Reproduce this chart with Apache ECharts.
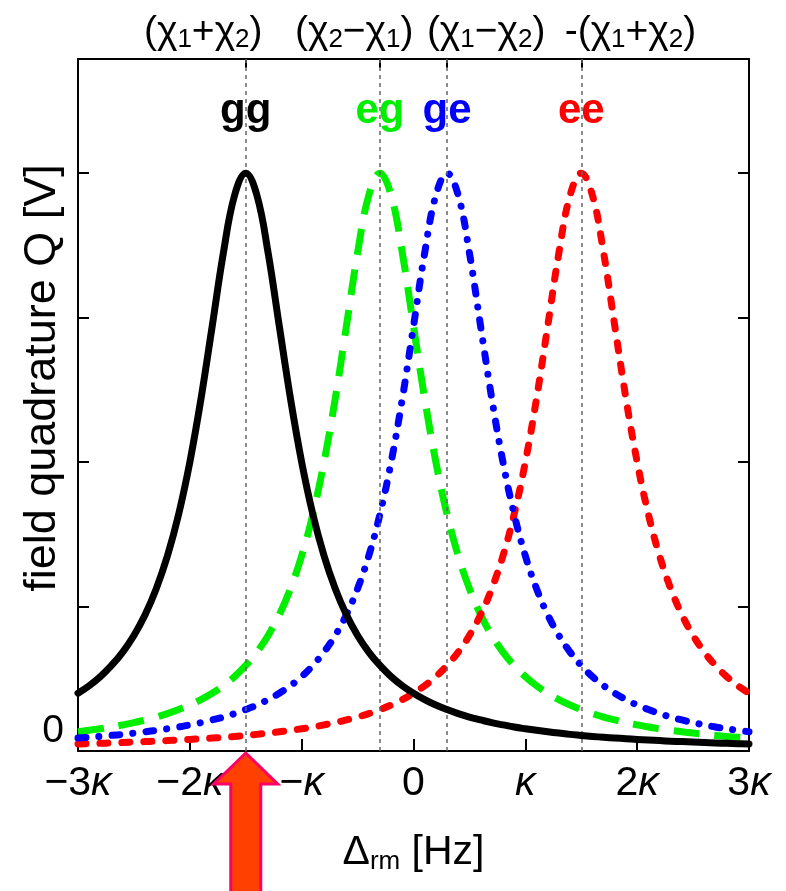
<!DOCTYPE html>
<html><head><meta charset="utf-8">
<script src="https://cdn.jsdelivr.net/npm/echarts@6/dist/echarts.min.js"></script>
<style>html,body{margin:0;padding:0;background:#fff}#c{width:786px;height:891px}</style>
</head><body><div id="c"></div>
<script>
// detuning in units of kappa
const detuning = [-3.0,-2.9,-2.8,-2.7,-2.6,-2.5,-2.4,-2.3,-2.2,-2.1,-2.0,-1.9,-1.8,-1.7,-1.6,-1.5,-1.4,-1.3,-1.2,-1.1,-1.0,-0.9,-0.8,-0.7,-0.6,-0.5,-0.4,-0.3,-0.2,-0.1,0.0,0.1,0.2,0.3,0.4,0.5,0.6,0.7,0.8,0.9,1.0,1.1,1.2,1.3,1.4,1.5,1.6,1.7,1.8,1.9,2.0,2.1,2.2,2.3,2.4,2.5,2.6,2.7,2.8,2.9,3.0];
const qGG = [0.4,0.452,0.515,0.592,0.685,0.8,0.943,1.124,1.351,1.639,2.0,2.439,2.941,3.448,3.846,4,3.846,3.448,2.941,2.439,2.0,1.639,1.351,1.124,0.943,0.8,0.685,0.592,0.515,0.452,0.4,0.356,0.318,0.287,0.259,0.235,0.215,0.196,0.181,0.166,0.154,0.143,0.133,0.124,0.115,0.108,0.101,0.095,0.09,0.085,0.08,0.076,0.072,0.068,0.065,0.062,0.059,0.056,0.053,0.051,0.049];
const qEG = [0.133,0.143,0.154,0.166,0.181,0.196,0.215,0.235,0.259,0.287,0.318,0.356,0.4,0.452,0.515,0.592,0.685,0.8,0.943,1.124,1.351,1.639,2.0,2.439,2.941,3.448,3.846,4,3.846,3.448,2.941,2.439,2.0,1.639,1.351,1.124,0.943,0.8,0.685,0.592,0.515,0.452,0.4,0.356,0.318,0.287,0.259,0.235,0.215,0.196,0.181,0.166,0.154,0.143,0.133,0.124,0.115,0.108,0.101,0.095,0.09];
const qGE = [0.09,0.095,0.101,0.108,0.115,0.124,0.133,0.143,0.154,0.166,0.181,0.196,0.215,0.235,0.259,0.287,0.318,0.356,0.4,0.452,0.515,0.592,0.685,0.8,0.943,1.124,1.351,1.639,2.0,2.439,2.941,3.448,3.846,4,3.846,3.448,2.941,2.439,2.0,1.639,1.351,1.124,0.943,0.8,0.685,0.592,0.515,0.452,0.4,0.356,0.318,0.287,0.259,0.235,0.215,0.196,0.181,0.166,0.154,0.143,0.133];
const qEE = [0.049,0.051,0.053,0.056,0.059,0.062,0.065,0.068,0.072,0.076,0.08,0.085,0.09,0.095,0.101,0.108,0.115,0.124,0.133,0.143,0.154,0.166,0.181,0.196,0.215,0.235,0.259,0.287,0.318,0.356,0.4,0.452,0.515,0.592,0.685,0.8,0.943,1.124,1.351,1.639,2.0,2.439,2.941,3.448,3.846,4,3.846,3.448,2.941,2.439,2.0,1.639,1.351,1.124,0.943,0.8,0.685,0.592,0.515,0.452,0.4];
const peakPositions = [-1.5, -0.3, 0.3, 1.5];
const peakHeight = 4;
const stateNames = ['gg', 'eg', 'ge', 'ee'];
const shiftLabels = ['(χ1+χ2)', '(χ2−χ1)', '(χ1−χ2)', '-(χ1+χ2)'];
const xTickValues = [-3, -2, -1, 0, 1, 2, 3];
const xTickLabels = ['−3κ', '−2κ', '−κ', '0', 'κ', '2κ', '3κ'];
const yTitle = 'field quadrature Q [V]';

const FONT = '"Liberation Sans", Arial, Helvetica, sans-serif';
const shiftLabelPos = [-1.88, -0.53, 0.65, 1.94];
const colors = {gg: '#000000', eg: '#00ee00', ge: '#0000ff', ee: '#ff0000'};

const chart = echarts.init(document.getElementById('c'), null, {renderer: 'canvas'});

function pairs(arr) { return detuning.map((x, i) => [x, arr[i]]); }
function nearestIdx(list, v) {
  let b = 0; for (let i = 1; i < list.length; i++) if (Math.abs(list[i] - v) < Math.abs(list[b] - v)) b = i; return b;
}
function subRich(s) { return s.replace(/(\d)/g, '{s|$1}'); }

function mkSeries(name, data, color, dash, cap, width, z) {
  const idx = stateNames.indexOf(name);
  return {
    type: 'line', name: name, data: pairs(data), showSymbol: false, smooth: 0.4, z: z,
    lineStyle: {color: color, width: width, type: dash, cap: cap, join: 'round'},
    markPoint: {
      symbol: 'circle', symbolSize: 1, itemStyle: {color: 'rgba(0,0,0,0)'},
      label: {show: true, formatter: name, offset: [0, -62], color: color, fontFamily: FONT, fontWeight: 'bold', fontSize: 42},
      data: [{coord: [peakPositions[idx], peakHeight]}]
    }
  };
}

const seriesList = [
  mkSeries('eg', qEG, colors.eg, [26, 15], 'butt', 7, 2),
  mkSeries('ee', qEE, colors.ee, [8, 14], 'round', 7, 3),
  mkSeries('ge', qGE, colors.ge, [8, 13, 0.1, 13], 'round', 7, 4),
  mkSeries('gg', qGG, colors.gg, 'solid', 'round', 7, 5)
];
seriesList[0].markLine = {
  silent: true, symbol: ['none', 'none'], label: {show: false},
  lineStyle: {color: '#666', width: 1.5, type: [4, 4]},
  data: peakPositions.map(p => ({xAxis: p}))
};

chart.setOption({
  animation: false,
  backgroundColor: '#fff',
  grid: {left: 78, right: 37, top: 59, bottom: 140, containLabel: false, outerBoundsMode: 'none'},
  xAxis: [{
    type: 'value', min: -3, max: 3, interval: 1, position: 'bottom',
    axisLine: {show: true, onZero: false, lineStyle: {color: '#000', width: 2}},
    axisTick: {show: true, inside: true, length: 12, lineStyle: {color: '#000', width: 2}},
    splitLine: {show: false},
    axisLabel: {
      margin: 12, color: '#000', fontFamily: FONT, fontSize: 41,
      formatter: v => { const t = xTickLabels[nearestIdx(xTickValues, v)]; return t.replace('κ', '{k|κ}'); },
      rich: {k: {fontFamily: FONT, fontSize: 41, fontStyle: 'italic', color: '#000'}}
    },
    name: 'Δ{s|rm} [Hz]', nameLocation: 'middle', nameGap: 80,
    nameTextStyle: {color: '#000', fontFamily: FONT, fontSize: 41, lineHeight: 44,
      rich: {s: {fontFamily: FONT, fontSize: 26, lineHeight: 26, verticalAlign: 'bottom', color: '#000'}}}
  }, {
    type: 'value', min: -3, max: 3, position: 'top',
    axisLine: {show: true, onZero: false, lineStyle: {color: '#000', width: 2}},
    axisTick: {show: true, inside: true, length: 9, customValues: peakPositions, lineStyle: {color: '#000', width: 2}},
    splitLine: {show: false},
    axisLabel: {
      show: true, margin: 6, customValues: shiftLabelPos, color: '#000', fontFamily: FONT, fontSize: 39, lineHeight: 42,
      formatter: v => subRich(shiftLabels[nearestIdx(shiftLabelPos, v)]),
      rich: {s: {fontFamily: FONT, fontSize: 26, lineHeight: 22, verticalAlign: 'bottom', color: '#000'}}
    }
  }],
  yAxis: [{
    type: 'value', min: 0, max: 4.79, interval: 1, position: 'left',
    axisLine: {show: true, onZero: false, lineStyle: {color: '#000', width: 2}},
    axisTick: {show: true, inside: true, length: 11, lineStyle: {color: '#000', width: 2}},
    splitLine: {show: false},
    axisLabel: {margin: 14, color: '#000', fontFamily: FONT, fontSize: 39, verticalAlign: 'bottom',
      formatter: v => (v === 0 ? '0' : '')}
  }, {
    type: 'value', min: 0, max: 4.79, interval: 1, position: 'right',
    axisLine: {show: true, onZero: false, lineStyle: {color: '#000', width: 2}},
    axisTick: {show: true, inside: true, length: 11, lineStyle: {color: '#000', width: 2}},
    splitLine: {show: false}, axisLabel: {show: false}
  }],
  series: seriesList
});

// y-axis title and arrow pointing at the gg resonance from below the axis
const tip = chart.convertToPixel({xAxisIndex: 0, yAxisIndex: 0}, [peakPositions[0], 0]);
const tx = tip[0], ty = tip[1] + 2;
chart.setOption({
  graphic: [{
    type: 'text', x: 43, y: 378, rotation: Math.PI / 2,
    style: {text: yTitle, fill: '#000', font: '45px ' + FONT, align: 'center', verticalAlign: 'middle'}
  }, {
    type: 'polygon', z: 100,
    shape: {points: [[tx, ty], [tx + 32, ty + 31], [tx + 15, ty + 31], [tx + 15, 900], [tx - 15, 900], [tx - 15, ty + 31], [tx - 32, ty + 31]]},
    style: {fill: '#ff4000', stroke: '#ff0066', lineWidth: 3}
  }]
});
</script>
</body></html>
